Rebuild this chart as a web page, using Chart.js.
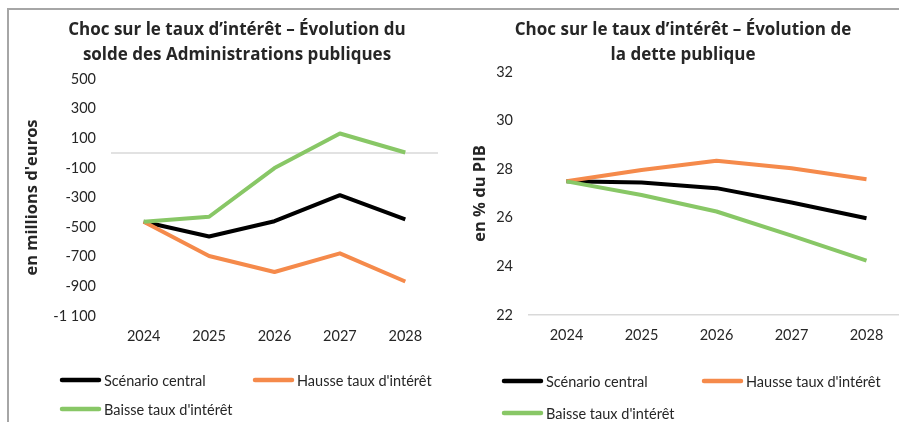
<!DOCTYPE html>
<html lang="fr">
<head>
<meta charset="utf-8">
<script src="https://cdn.jsdelivr.net/npm/chart.js@4/dist/chart.umd.min.js"></script>
<style>
  html, body { margin: 0; padding: 0; background: #fff; }
  #wrap { position: relative; width: 899px; height: 422px; overflow: hidden; }
  #frame { position: absolute; left: 7px; top: 8px; right: -10px; bottom: -10px;
           border-top: 2px solid #a6a6a6; border-left: 2px solid #a6a6a6; }
  #solde { position: absolute; left: 10px; top: 11px; }
  #dette { position: absolute; left: 450px; top: 11px; }
</style>
</head>
<body>
<div id="wrap">
  <div id="frame"></div>
  <div id="solde" style="width:454px;height:411px"><canvas id="soldeChart"></canvas></div>
  <div id="dette" style="width:466px;height:411px"><canvas id="detteChart"></canvas></div>
</div>
<script>
"use strict";

// data
const years = ['2024', '2025', '2026', '2027', '2028'];
const seriesNames = ['Scénario central', 'Hausse taux d\'intérêt', 'Baisse taux d\'intérêt'];

const soldeCentral = [-464, -563, -460, -284, -448];
const soldeHausse = [-464, -695, -803, -677, -867];
const soldeBaisse = [-464, -430, -101, 132, 4];

const detteCentral = [27.5, 27.45, 27.22, 26.63, 25.98];
const detteHausse = [27.5, 27.97, 28.35, 28.04, 27.59];
const detteBaisse = [27.5, 26.94, 26.26, 25.27, 24.24];

const soldeRange = [-1100, 500, 200];
const detteRange = [22, 32, 2];

const colors = ['#000000', '#F58A4B', '#88C766'];
const FONT = 'Lato, "Open Sans", sans-serif';
const BOLD = '"Open Sans", Lato, sans-serif';
const TEXT = '#262626';

// helpers
const spaced = v => String(v).replace(/\B(?=(\d{3})+(?!\d))/g, ' ');

function makeSets(values) {
  return values.map((vals, i) => ({
    label: seriesNames[i],
    data: vals,
    borderColor: colors[i],
    backgroundColor: colors[i],
    borderWidth: 4,
    borderJoinStyle: 'round',
    pointRadius: 0,
    tension: 0,
    order: 2 - i
  }));
}

// draws the zero line of the balance chart
const zeroLine = {
  id: 'zeroLine',
  beforeDatasetsDraw(chart, args, opts) {
    if (!opts.show) return;
    const {ctx, chartArea, scales} = chart;
    const y = scales.y.getPixelForValue(0);
    ctx.save();
    ctx.strokeStyle = '#d9d9d9';
    ctx.lineWidth = 1.5;
    ctx.beginPath();
    ctx.moveTo(chartArea.left, y);
    ctx.lineTo(chartArea.right, y);
    ctx.stroke();
    ctx.restore();
  }
};

// legend in two columns, like the Excel one
const lineLegend = {
  id: 'lineLegend',
  afterDraw(chart, args, opts) {
    const {ctx} = chart;
    ctx.save();
    ctx.font = '14.5px ' + FONT;
    ctx.textBaseline = 'middle';
    ctx.fillStyle = TEXT;
    chart.data.datasets.forEach((ds, i) => {
      const x = opts.x + (i % 2) * opts.colGap;
      const y = opts.y + Math.floor(i / 2) * opts.rowGap;
      ctx.strokeStyle = ds.borderColor;
      ctx.lineWidth = 4.5;
      ctx.lineCap = 'round';
      ctx.beginPath();
      ctx.moveTo(x + 2, y);
      ctx.lineTo(x + 39, y);
      ctx.stroke();
      ctx.fillText(ds.label, x + 44, y + 1);
    });
    ctx.restore();
  }
};

function makeConfig(o) {
  return {
    type: 'line',
    data: { labels: years, datasets: makeSets(o.values) },
    plugins: [zeroLine, lineLegend],
    options: {
      responsive: true,
      maintainAspectRatio: false,
      animation: false,
      layout: { padding: { left: 0, right: 0, top: 0, bottom: o.bottomPad } },
      plugins: {
        legend: { display: false },
        tooltip: { enabled: false },
        title: {
          display: true,
          text: o.title,
          color: TEXT,
          font: { family: BOLD, size: 17, weight: 'bold', lineHeight: 25 / 17 },
          padding: { top: 6.5, bottom: o.titleGap }
        },
        zeroLine: { show: o.zero },
        lineLegend: o.legend
      },
      scales: {
        x: {
          type: 'category',
          offset: true,
          grid: { display: false, drawTicks: false },
          border: { display: o.xBorder, color: '#d9d9d9', width: 1.5 },
          ticks: { color: TEXT, font: { family: FONT, size: 14.5 }, padding: 12, maxRotation: 0 },
          afterFit: s => { s.height = 40; }
        },
        y: {
          min: o.range[0],
          max: o.range[1],
          grid: { display: false, drawTicks: false },
          border: { display: false },
          ticks: {
            stepSize: o.range[2],
            color: TEXT,
            font: { family: FONT, size: 14.5 },
            padding: o.tickPad,
            callback: v => spaced(v)
          },
          title: {
            display: true,
            text: o.yTitle,
            color: TEXT,
            font: { family: BOLD, size: 16.5, weight: 'bold', lineHeight: 1.2 },
            padding: { top: o.yTitlePad, bottom: 0 }
          },
          afterFit: s => { s.width = o.yWidth; }
        },
        pad: {
          position: 'right',
          display: true,
          grid: { display: false, drawTicks: false },
          border: { display: false },
          ticks: { display: false },
          afterFit: s => { s.width = o.rightGap; }
        }
      }
    }
  };
}

const soldeChart = new Chart(document.getElementById('soldeChart'), makeConfig({
  values: [soldeCentral, soldeHausse, soldeBaisse],
  title: ['Choc sur le taux d’intérêt – Évolution du', 'solde des Administrations publiques'],
  titleGap: 11.5,
  yTitle: 'en millions d\'euros',
  yTitlePad: 12,
  yWidth: 101,
  tickPad: 15,
  rightGap: 26,
  range: soldeRange,
  zero: true,
  xBorder: false,
  bottomPad: 66,
  legend: { x: 50, y: 369, colGap: 193, rowGap: 29 }
}));

const detteChart = new Chart(document.getElementById('detteChart'), makeConfig({
  values: [detteCentral, detteHausse, detteBaisse],
  title: ['Choc sur le taux d’intérêt – Évolution de', 'la dette publique'],
  titleGap: 4.5,
  yTitle: 'en % du PIB',
  yTitlePad: 20,
  yWidth: 79,
  tickPad: 16,
  rightGap: 12,
  range: detteRange,
  zero: false,
  xBorder: true,
  bottomPad: 67,
  legend: { x: 52, y: 370, colGap: 200, rowGap: 32 }
}));
</script>
</body>
</html>
